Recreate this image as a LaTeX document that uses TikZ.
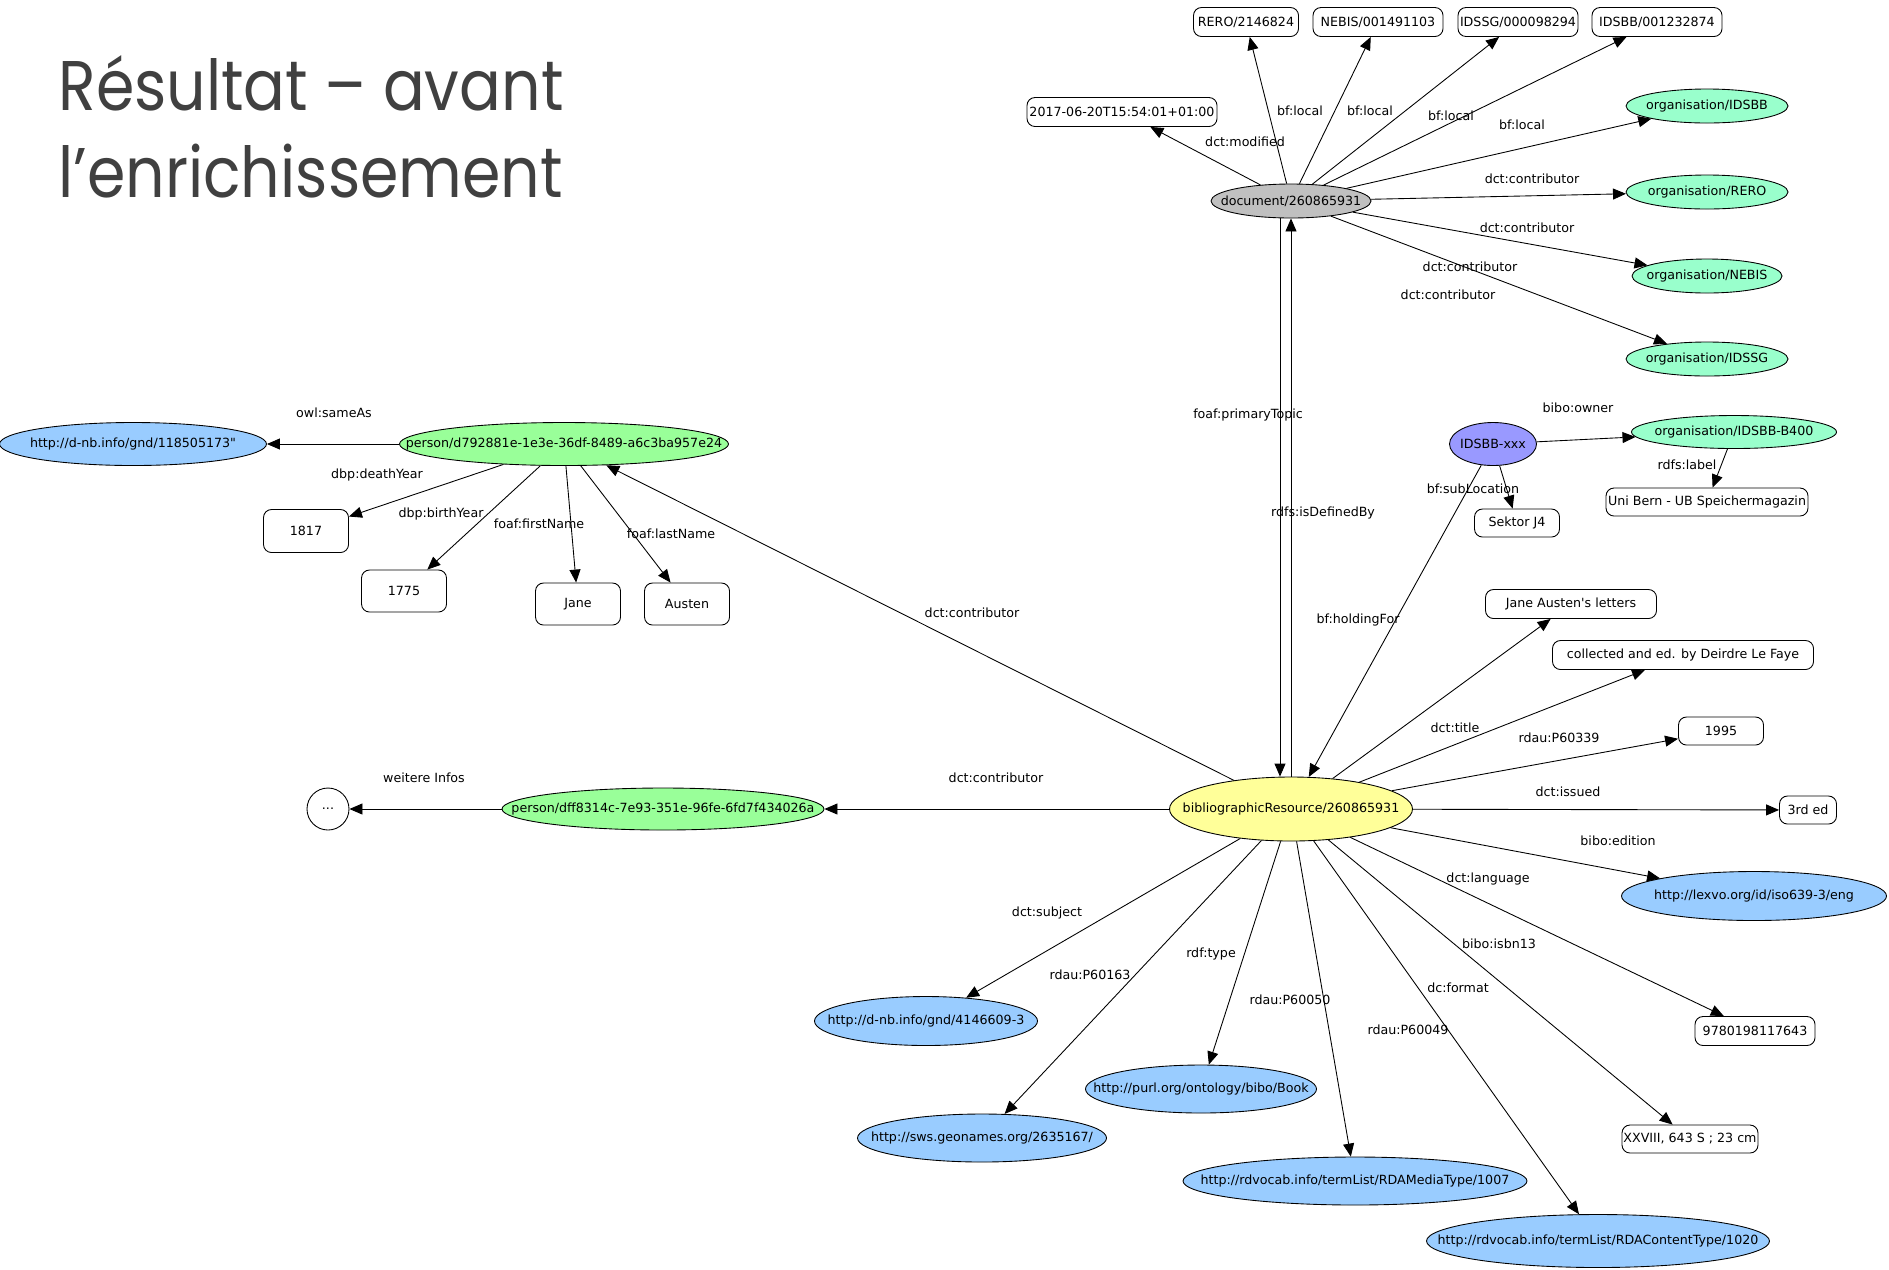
\documentclass[tikz,border=0pt]{standalone}
\usepackage{fontspec}
\usepackage{tikz}
\usetikzlibrary{shapes.geometric,arrows.meta}
\newfontfamily\graphfont{DejaVu Sans}
\newfontfamily\titlefont{Poppins}[FakeStretch=0.88]
\definecolor{docgray}{HTML}{C0C0C0}
\definecolor{persgreen}{HTML}{99FF99}
\definecolor{orgmint}{HTML}{99FFCC}
\definecolor{uriblue}{HTML}{99CCFF}
\definecolor{resyellow}{HTML}{FFFF99}
\definecolor{holdblue}{HTML}{9999FF}
\definecolor{titlegray}{HTML}{404040}
\tikzset{
  px/.style 2 args={minimum width=#1*0.02cm, minimum height=#2*0.02cm},
  slim/.style={execute at begin node={\hbox to 0pt\bgroup\hss}, execute at end node={\hss\egroup}},
  res/.style={ellipse, draw, fill=#1, inner sep=0pt, slim},
  lit/.style={draw, rounded corners=0.16cm, fill=white, inner sep=0pt},
  lbl/.style={inner sep=0pt},
  rel/.style={-{Triangle[length=0.26cm,width=0.22cm]}},
  ttl/.style={anchor=base west, inner sep=0pt, text=titlegray, font=\titlefont\fontsize{40}{48}\selectfont}
}

\begin{document}
\begin{tikzpicture}[x=0.02cm, y=-0.02cm, line width=0.5pt, font=\graphfont\fontsize{7.2}{8.6}\selectfont]
      \useasboundingbox (0,0) rectangle (1889,1269);

      \path
      (58,110) node[ttl](title1) {Résultat – avant}
      (58,197) node[ttl](title2) {l’enrichissement}
      ;

      \path
      (1291,201) node[res=docgray,px={160}{34}](doc) {document/260865931}
      (1707,106) node[res=orgmint,px={162}{34}](oidsbb) {organisation/IDSBB}
      (1707,192) node[res=orgmint,px={162}{34}](orero) {organisation/RERO}
      (1707,276) node[res=orgmint,px={150}{34}](onebis) {organisation/NEBIS}
      (1707,359) node[res=orgmint,px={162}{34}](oidssg) {organisation/IDSSG}
      (1493,444) node[res=holdblue,px={87}{43}](holding) {IDSBB-xxx}
      (1734,432) node[res=orgmint,px={205}{33}](ob400) {organisation/IDSBB-B400}
      (133,444) node[res=uriblue,px={267}{43}](gnd) {http://d-nb.info/gnd/118505173"}
      (564,444) node[res=persgreen,px={329}{43}](pers) {person/d792881e-1e3e-36df-8489-a6c3ba957e24}
      (663,809) node[res=persgreen,px={322}{42}](pers2) {person/dff8314c-7e93-351e-96fe-6fd7f434026a}
      (328,809) node[circle,draw,inner sep=0pt,minimum size=42*0.02cm](more) {...}
      (1291,809) node[res=resyellow,px={243}{64}](bib) {bibliographicResource/260865931}
      (1754,896) node[res=uriblue,px={265}{49}](lexvo) {http://lexvo.org/id/iso639-3/eng}
      (926,1021) node[res=uriblue,px={223}{49}](subject) {http://d-nb.info/gnd/4146609-3}
      (982,1138) node[res=uriblue,px={249}{48}](place) {http://sws.geonames.org/2635167/}
      (1201,1089) node[res=uriblue,px={231}{48}](book) {http://purl.org/ontology/bibo/Book}
      (1355,1181) node[res=uriblue,px={344}{48}](media) {http://rdvocab.info/termList/RDAMediaType/1007}
      (1598,1241) node[res=uriblue,px={343}{53}](content) {http://rdvocab.info/termList/RDAContentType/1020}
      ;

      \path
      (1246,22) node[lit,px={105}{29}](rero) {RERO/2146824}
      (1378,22) node[lit,px={130}{29}](nebis) {NEBIS/001491103}
      (1518,22) node[lit,px={120}{29}](idssg) {IDSSG/000098294}
      (1657,22) node[lit,px={130}{29}](idsbb) {IDSBB/001232874}
      (1122,112) node[lit,px={190}{29}](modified) {2017-06-20T15:54:01+01:00}
      (306,531) node[lit,px={85}{43}](death) {1817}
      (404,591) node[lit,px={85}{42}](birth) {1775}
      (578,604) node[lit,px={85}{42}](first) {Jane}
      (687,604) node[lit,px={85}{42}](last) {Austen}
      (1517,523) node[lit,px={85}{28}](sektor) {Sektor J4}
      (1707,502) node[lit,px={202}{28}](unibern) {Uni Bern - UB Speichermagazin}
      (1571,604) node[lit,px={171}{29}](title) {Jane Austen\textquotesingle s letters}
      (1683,655) node[lit,px={261}{29}](resp) {collected and ed. by Deirdre Le Faye}
      (1721,731) node[lit,px={85}{28}](year) {1995}
      (1808,810) node[lit,px={57}{28}](edition) {3rd ed}
      (1755,1031) node[lit,px={120}{29}](isbn) {9780198117643}
      (1690,1139) node[lit,px={136}{28}](extent) {XXVIII, 643 S ; 23 cm}
      ;

      \path
      (1245,142) node[lbl](lmod) {dct:modified}
      (1300,111) node[lbl](lloc1) {bf:local}
      (1370,111) node[lbl](lloc2) {bf:local}
      (1451,116) node[lbl](lloc3) {bf:local}
      (1522,125) node[lbl](lloc4) {bf:local}
      (1532,179) node[lbl](lcon1) {dct:contributor}
      (1527,228) node[lbl](lcon2) {dct:contributor}
      (1470,267) node[lbl](lcon3) {dct:contributor}
      (1448,295) node[lbl](lcon4) {dct:contributor}
      (1248,415) node[lbl](ltopic) {foaf:primaryTopic}
      (1323,513) node[lbl](ldef) {rdfs:isDefinedBy}
      (1578,408) node[lbl](lowner) {bibo:owner}
      (1687,465) node[lbl](llabel) {rdfs:label}
      (1473,489) node[lbl](lsub) {bf:subLocation}
      (1358,620) node[lbl](lhold) {bf:holdingFor}
      (334,413) node[lbl](lsame) {owl:sameAs}
      (377,475) node[lbl](ldeath) {dbp:deathYear}
      (441,514) node[lbl](lbirth) {dbp:birthYear}
      (539,524) node[lbl](lfirst) {foaf:firstName}
      (671,534) node[lbl](llast) {foaf:lastName}
      (972,613) node[lbl](lcon5) {dct:contributor}
      (996,778) node[lbl](lcon6) {dct:contributor}
      (424,778) node[lbl](linfo) {weitere Infos}
      (1455,728) node[lbl](ltitle) {dct:title}
      (1559,738) node[lbl](lresp) {rdau:P60339}
      (1568,792) node[lbl](lissued) {dct:issued}
      (1618,841) node[lbl](ledition) {bibo:edition}
      (1488,879) node[lbl](llang) {dct:language}
      (1499,944) node[lbl](lisbn) {bibo:isbn13}
      (1458,988) node[lbl](lformat) {dc:format}
      (1408,1030) node[lbl](lcontent) {rdau:P60049}
      (1290,1000) node[lbl](lmedia) {rdau:P60050}
      (1211,954) node[lbl](ltype) {rdf:type}
      (1090,975) node[lbl](lplace) {rdau:P60163}
      (1047,913) node[lbl](lsubject) {dct:subject}
      ;

      \draw[rel] (doc) -- (modified);
      \draw[rel] (doc) -- (rero);
      \draw[rel] (doc) -- (nebis);
      \draw[rel] (doc) -- (idssg);
      \draw[rel] (doc) -- (idsbb);
      \draw[rel] (doc) -- (oidsbb);
      \draw[rel] (doc) -- (orero);
      \draw[rel] (doc) -- (onebis);
      \draw[rel] (doc) -- (oidssg);
      \draw[rel] ([xshift=-0.22cm]doc.south) -- ([xshift=-0.22cm]bib.north);
      \draw[rel] (bib) -- (doc);

      \draw[rel] (holding) -- (ob400);
      \draw[rel] (holding) -- (sektor);
      \draw[rel] (holding) -- (bib);
      \draw[rel] (ob400) -- (unibern);

      \draw[rel] (pers) -- (gnd);
      \draw[rel] (pers) -- (death);
      \draw[rel] (pers) -- (birth);
      \draw[rel] (pers) -- (first);
      \draw[rel] (pers) -- (last);
      \draw[rel] (bib) -- (pers);
      \draw[rel] (bib) -- (pers2);
      \draw[rel] (pers2) -- (more);

      \draw[rel] (bib) -- (title);
      \draw[rel] (bib) -- (resp);
      \draw[rel] (bib) -- (year);
      \draw[rel] (bib) -- (edition);
      \draw[rel] (bib) -- (lexvo);
      \draw[rel] (bib) -- (isbn);
      \draw[rel] (bib) -- (extent);
      \draw[rel] (bib) -- (content);
      \draw[rel] (bib) -- (media);
      \draw[rel] (bib) -- (book);
      \draw[rel] (bib) -- (place);
      \draw[rel] (bib) -- (subject);
    \end{tikzpicture}
\end{document}
